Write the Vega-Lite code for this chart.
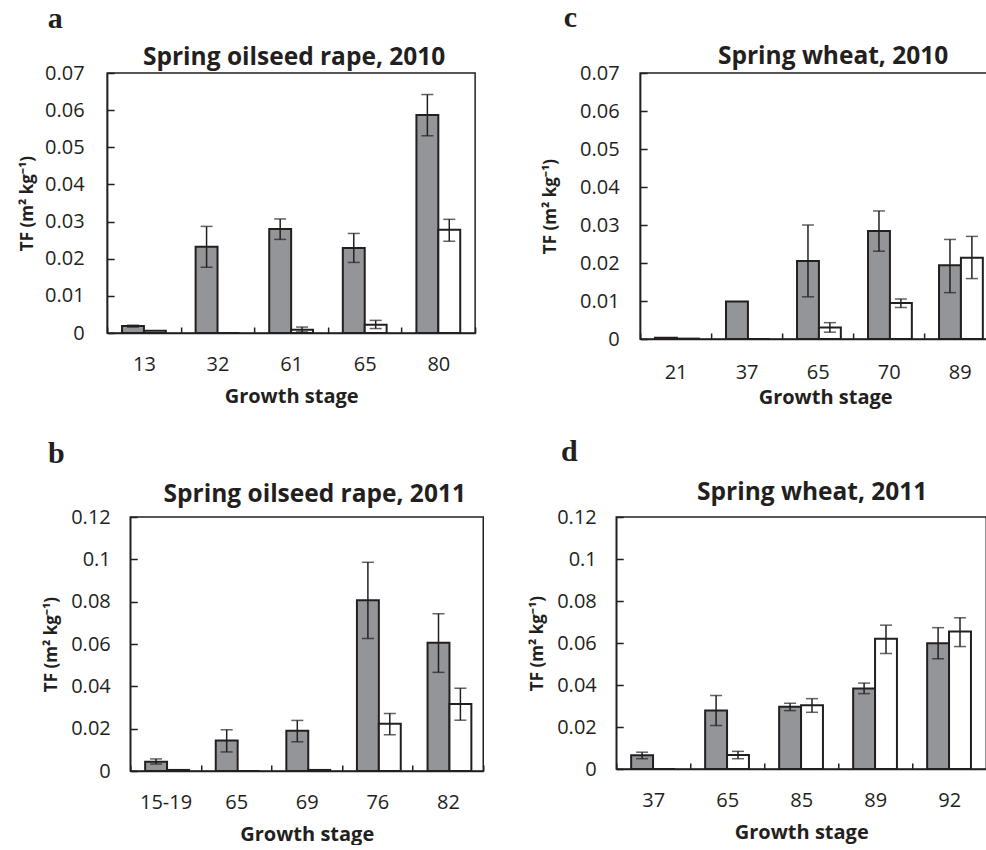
{
"$schema": "https://vega.github.io/schema/vega-lite/v6.json",
"padding": {"left": 17, "top": 2, "right": 0, "bottom": 0},
"background": "white",
"data": {"values": [
{"p":"a","stage":"13","g":"A","tf":0.0019,"lo":0.0016,"hi":0.0021},
{"p":"a","stage":"13","g":"B","tf":0.0006,"lo":null,"hi":null},
{"p":"a","stage":"32","g":"A","tf":0.0232,"lo":0.0177,"hi":0.0287},
{"p":"a","stage":"32","g":"B","tf":0,"lo":null,"hi":null},
{"p":"a","stage":"61","g":"A","tf":0.0280,"lo":0.0252,"hi":0.0307},
{"p":"a","stage":"61","g":"B","tf":0.0009,"lo":0.0003,"hi":0.0016},
{"p":"a","stage":"65","g":"A","tf":0.0229,"lo":0.0190,"hi":0.0268},
{"p":"a","stage":"65","g":"B","tf":0.0022,"lo":0.0012,"hi":0.0034},
{"p":"a","stage":"80","g":"A","tf":0.0587,"lo":0.0531,"hi":0.0642},
{"p":"a","stage":"80","g":"B","tf":0.0278,"lo":0.0247,"hi":0.0306},
{"p":"c","stage":"21","g":"A","tf":0.0003,"lo":null,"hi":null},
{"p":"c","stage":"21","g":"B","tf":0.0001,"lo":null,"hi":null},
{"p":"c","stage":"37","g":"A","tf":0.0099,"lo":null,"hi":null},
{"p":"c","stage":"37","g":"B","tf":0,"lo":null,"hi":null},
{"p":"c","stage":"65","g":"A","tf":0.0205,"lo":0.0111,"hi":0.0300},
{"p":"c","stage":"65","g":"B","tf":0.0030,"lo":0.0018,"hi":0.0043},
{"p":"c","stage":"70","g":"A","tf":0.0284,"lo":0.0231,"hi":0.0337},
{"p":"c","stage":"70","g":"B","tf":0.0095,"lo":0.0083,"hi":0.0105},
{"p":"c","stage":"89","g":"A","tf":0.0194,"lo":0.0122,"hi":0.0262},
{"p":"c","stage":"89","g":"B","tf":0.0214,"lo":0.0159,"hi":0.0270},
{"p":"b","stage":"15-19","g":"A","tf":0.0044,"lo":0.0033,"hi":0.0057},
{"p":"b","stage":"15-19","g":"B","tf":0.0005,"lo":null,"hi":null},
{"p":"b","stage":"65","g":"A","tf":0.0144,"lo":0.0090,"hi":0.0195},
{"p":"b","stage":"65","g":"B","tf":0,"lo":null,"hi":null},
{"p":"b","stage":"69","g":"A","tf":0.0190,"lo":0.0138,"hi":0.0239},
{"p":"b","stage":"69","g":"B","tf":0.0005,"lo":null,"hi":null},
{"p":"b","stage":"76","g":"A","tf":0.0807,"lo":0.0626,"hi":0.0986},
{"p":"b","stage":"76","g":"B","tf":0.0223,"lo":0.0171,"hi":0.0272},
{"p":"b","stage":"82","g":"A","tf":0.0606,"lo":0.0466,"hi":0.0743},
{"p":"b","stage":"82","g":"B","tf":0.0317,"lo":0.0240,"hi":0.0391},
{"p":"d","stage":"37","g":"A","tf":0.0065,"lo":0.0049,"hi":0.0080},
{"p":"d","stage":"37","g":"B","tf":0,"lo":null,"hi":null},
{"p":"d","stage":"65","g":"A","tf":0.0278,"lo":0.0207,"hi":0.0350},
{"p":"d","stage":"65","g":"B","tf":0.0067,"lo":0.0049,"hi":0.0084},
{"p":"d","stage":"85","g":"A","tf":0.0296,"lo":0.0278,"hi":0.0313},
{"p":"d","stage":"85","g":"B","tf":0.0304,"lo":0.0270,"hi":0.0335},
{"p":"d","stage":"89","g":"A","tf":0.0383,"lo":0.0359,"hi":0.0409},
{"p":"d","stage":"89","g":"B","tf":0.0620,"lo":0.0550,"hi":0.0685},
{"p":"d","stage":"92","g":"A","tf":0.0599,"lo":0.0525,"hi":0.0673},
{"p":"d","stage":"92","g":"B","tf":0.0655,"lo":0.0583,"hi":0.0720}
]},
"center": true,
"spacing": 28,
"vconcat": [
 {"hconcat": [
  {"title": {"text": "a", "font": "Liberation Serif", "fontSize": 30, "fontWeight": "bold", "anchor": "start", "frame": "bounds", "dx": 30, "offset": 10, "color": "#231f20"},
   "vconcat": [
   {"width": 368, "height": 260,
    "title": {"text": "Spring oilseed rape, 2010", "offset": -7, "dx": 3},
    "transform": [{"filter": "datum.p == 'a'"}],
    "layer": [
     {"mark": {"type": "bar", "stroke": "#231f20", "strokeWidth": 2},
      "encoding": {
       "x": {"field": "stage", "type": "nominal", "sort": null, "title": "Growth stage", "scale": {"domain": ["13","32","61","65","80"], "paddingInner": 0, "paddingOuter": 0}},
       "xOffset": {"field": "g", "type": "nominal", "scale": {"domain": ["A","B"], "paddingInner": 0, "paddingOuter": 0.68}},
       "y": {"field": "tf", "type": "quantitative", "title": "TF (m² kg⁻¹)", "scale": {"domain": [0, 0.07], "nice": false}, "axis": {"values": [0,0.01,0.02,0.03,0.04,0.05,0.06,0.07], "tickCount": 10, "titlePadding": 8, "labelPadding": 30, "labelOverlap": false, "labelFlush": false, "labelBound": false}},
       "fill": {"field": "g", "type": "nominal", "scale": {"domain": ["A","B"], "range": ["#939598","#ffffff"]}, "legend": null}
      }},
     {"transform": [{"filter": "isValid(datum.lo)"}], "mark": {"type": "rule", "color": "#231f20", "strokeWidth": 1.5},
      "encoding": {"x": {"field": "stage", "type": "nominal", "sort": null}, "xOffset": {"field": "g", "type": "nominal"}, "y": {"field": "lo", "type": "quantitative"}, "y2": {"field": "hi"}}},
     {"transform": [{"filter": "isValid(datum.lo)"}], "mark": {"type": "tick", "color": "#231f20", "thickness": 1.5, "size": 12},
      "encoding": {"x": {"field": "stage", "type": "nominal", "sort": null}, "xOffset": {"field": "g", "type": "nominal"}, "y": {"field": "lo", "type": "quantitative"}}},
     {"transform": [{"filter": "isValid(datum.lo)"}], "mark": {"type": "tick", "color": "#231f20", "thickness": 1.5, "size": 12},
      "encoding": {"x": {"field": "stage", "type": "nominal", "sort": null}, "xOffset": {"field": "g", "type": "nominal"}, "y": {"field": "hi", "type": "quantitative"}}}
    ]}
  ]},
  {"title": {"text": "c", "font": "Liberation Serif", "fontSize": 30, "fontWeight": "bold", "anchor": "start", "frame": "bounds", "dx": 23, "offset": 10, "color": "#231f20"},
   "vconcat": [
   {"width": 370, "height": 266,
    "title": {"text": "Spring wheat, 2010", "offset": -6, "dx": 8},
    "transform": [{"filter": "datum.p == 'c'"}],
    "layer": [
     {"mark": {"type": "bar", "stroke": "#231f20", "strokeWidth": 2},
      "encoding": {
       "x": {"field": "stage", "type": "nominal", "sort": null, "title": "Growth stage", "scale": {"domain": ["21","37","65","70","89"], "paddingInner": 0, "paddingOuter": 0.1056, "align": 0}, "axis": {"titlePadding": 5, "labelPadding": 29}},
       "xOffset": {"field": "g", "type": "nominal", "scale": {"domain": ["A","B"], "paddingInner": 0, "paddingOuter": 0.69}},
       "y": {"field": "tf", "type": "quantitative", "title": "TF (m² kg⁻¹)", "scale": {"domain": [0, 0.07], "nice": false}, "axis": {"values": [0,0.01,0.02,0.03,0.04,0.05,0.06,0.07], "tickCount": 10, "titlePadding": 20, "labelPadding": 28, "labelOverlap": false, "labelFlush": false, "labelBound": false}},
       "fill": {"field": "g", "type": "nominal", "scale": {"domain": ["A","B"], "range": ["#939598","#ffffff"]}, "legend": null}
      }},
     {"transform": [{"filter": "isValid(datum.lo)"}], "mark": {"type": "rule", "color": "#231f20", "strokeWidth": 1.5},
      "encoding": {"x": {"field": "stage", "type": "nominal", "sort": null}, "xOffset": {"field": "g", "type": "nominal"}, "y": {"field": "lo", "type": "quantitative"}, "y2": {"field": "hi"}}},
     {"transform": [{"filter": "isValid(datum.lo)"}], "mark": {"type": "tick", "color": "#231f20", "thickness": 1.5, "size": 12},
      "encoding": {"x": {"field": "stage", "type": "nominal", "sort": null}, "xOffset": {"field": "g", "type": "nominal"}, "y": {"field": "lo", "type": "quantitative"}}},
     {"transform": [{"filter": "isValid(datum.lo)"}], "mark": {"type": "tick", "color": "#231f20", "thickness": 1.5, "size": 12},
      "encoding": {"x": {"field": "stage", "type": "nominal", "sort": null}, "xOffset": {"field": "g", "type": "nominal"}, "y": {"field": "hi", "type": "quantitative"}}}
    ]}
  ]}
 ], "spacing": 63},
 {"hconcat": [
  {"title": {"text": "b", "font": "Liberation Serif", "fontSize": 30, "fontWeight": "bold", "anchor": "start", "frame": "bounds", "dx": 6, "offset": 12, "color": "#231f20"},
   "vconcat": [
   {"width": 353, "height": 254,
    "title": {"text": "Spring oilseed rape, 2011", "offset": 0, "dx": 8},
    "transform": [{"filter": "datum.p == 'b'"}],
    "layer": [
     {"mark": {"type": "bar", "stroke": "#231f20", "strokeWidth": 2},
      "encoding": {
       "x": {"field": "stage", "type": "nominal", "sort": null, "title": "Growth stage", "scale": {"domain": ["15-19","65","69","76","82"], "paddingInner": 0, "paddingOuter": 0}},
       "xOffset": {"field": "g", "type": "nominal", "scale": {"domain": ["A","B"], "paddingInner": 0, "paddingOuter": 0.76}},
       "y": {"field": "tf", "type": "quantitative", "title": "TF (m² kg⁻¹)", "scale": {"domain": [0, 0.12], "nice": false}, "axis": {"values": [0,0.02,0.04,0.06,0.08,0.1,0.12], "tickCount": 10, "titlePadding": 10, "labelPadding": 27, "labelOverlap": false, "labelFlush": false, "labelBound": false}},
       "fill": {"field": "g", "type": "nominal", "scale": {"domain": ["A","B"], "range": ["#939598","#ffffff"]}, "legend": null}
      }},
     {"transform": [{"filter": "isValid(datum.lo)"}], "mark": {"type": "rule", "color": "#231f20", "strokeWidth": 1.5},
      "encoding": {"x": {"field": "stage", "type": "nominal", "sort": null}, "xOffset": {"field": "g", "type": "nominal"}, "y": {"field": "lo", "type": "quantitative"}, "y2": {"field": "hi"}}},
     {"transform": [{"filter": "isValid(datum.lo)"}], "mark": {"type": "tick", "color": "#231f20", "thickness": 1.5, "size": 12},
      "encoding": {"x": {"field": "stage", "type": "nominal", "sort": null}, "xOffset": {"field": "g", "type": "nominal"}, "y": {"field": "lo", "type": "quantitative"}}},
     {"transform": [{"filter": "isValid(datum.lo)"}], "mark": {"type": "tick", "color": "#231f20", "thickness": 1.5, "size": 12},
      "encoding": {"x": {"field": "stage", "type": "nominal", "sort": null}, "xOffset": {"field": "g", "type": "nominal"}, "y": {"field": "hi", "type": "quantitative"}}}
    ]}
  ]},
  {"title": {"text": "d", "font": "Liberation Serif", "fontSize": 30, "fontWeight": "bold", "anchor": "start", "frame": "bounds", "dx": 33, "offset": 12, "color": "#231f20"},
   "vconcat": [
   {"width": 370, "height": 252,
    "title": {"text": "Spring wheat, 2011", "offset": 2, "dx": 11},
    "transform": [{"filter": "datum.p == 'd'"}],
    "layer": [
     {"mark": {"type": "bar", "stroke": "#231f20", "strokeWidth": 2},
      "encoding": {
       "x": {"field": "stage", "type": "nominal", "sort": null, "title": "Growth stage", "scale": {"domain": ["37","65","85","89","92"], "paddingInner": 0, "paddingOuter": 0}},
       "xOffset": {"field": "g", "type": "nominal", "scale": {"domain": ["A","B"], "paddingInner": 0, "paddingOuter": 0.68}},
       "y": {"field": "tf", "type": "quantitative", "title": "TF (m² kg⁻¹)", "scale": {"domain": [0, 0.12], "nice": false}, "axis": {"values": [0,0.02,0.04,0.06,0.08,0.1,0.12], "tickCount": 10, "titlePadding": 10, "labelPadding": 27, "labelOverlap": false, "labelFlush": false, "labelBound": false}},
       "fill": {"field": "g", "type": "nominal", "scale": {"domain": ["A","B"], "range": ["#939598","#ffffff"]}, "legend": null}
      }},
     {"transform": [{"filter": "isValid(datum.lo)"}], "mark": {"type": "rule", "color": "#231f20", "strokeWidth": 1.5},
      "encoding": {"x": {"field": "stage", "type": "nominal", "sort": null}, "xOffset": {"field": "g", "type": "nominal"}, "y": {"field": "lo", "type": "quantitative"}, "y2": {"field": "hi"}}},
     {"transform": [{"filter": "isValid(datum.lo)"}], "mark": {"type": "tick", "color": "#231f20", "thickness": 1.5, "size": 12},
      "encoding": {"x": {"field": "stage", "type": "nominal", "sort": null}, "xOffset": {"field": "g", "type": "nominal"}, "y": {"field": "lo", "type": "quantitative"}}},
     {"transform": [{"filter": "isValid(datum.lo)"}], "mark": {"type": "tick", "color": "#231f20", "thickness": 1.5, "size": 12},
      "encoding": {"x": {"field": "stage", "type": "nominal", "sort": null}, "xOffset": {"field": "g", "type": "nominal"}, "y": {"field": "hi", "type": "quantitative"}}}
    ]}
  ]}
 ], "spacing": 42}
],
"config": {
 "view": {"stroke": "#231f20", "strokeWidth": 1.5},
 "font": "Open Sans",
 "title": {"font": "Open Sans", "fontSize": 24.5, "fontWeight": "bold", "color": "#231f20", "anchor": "middle", "frame": "group"},
 "axis": {"labelFont": "Open Sans", "labelFontSize": 20, "labelColor": "#231f20", "titleFont": "Open Sans", "titleFontWeight": "bold", "titleColor": "#231f20", "domainColor": "#231f20", "domainWidth": 1.5, "tickColor": "#231f20", "tickWidth": 1.5, "grid": false, "labelOverlap": false},
 "axisX": {"labelAngle": 0, "tickBand": "extent", "tickSize": -6, "labelPadding": 27, "titleFontSize": 20, "titlePadding": 12},
 "axisY": {"tickSize": -7, "format": ".2~f", "titleFontSize": 17, "labelFlush": false}
}
}
